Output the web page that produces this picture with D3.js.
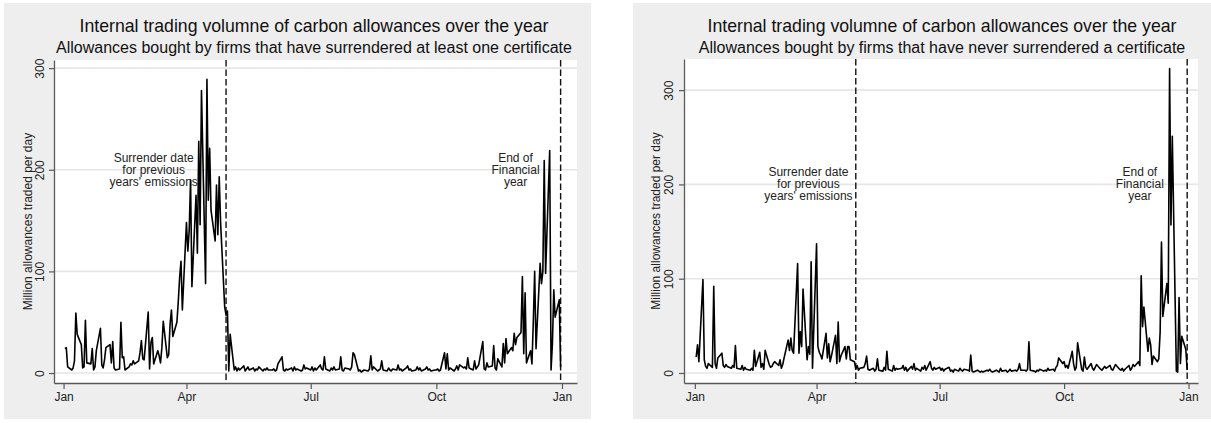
<!DOCTYPE html>
<html><head><meta charset="utf-8">
<script src="https://cdn.jsdelivr.net/npm/d3@7"></script>
<style>
body{margin:0;background:#fff}
svg{display:block}
text{font-family:"Liberation Sans", Arial, Helvetica, sans-serif}
</style>
</head><body>
<svg id="chart" width="1211" height="423"></svg>
<script>
// ---------- data ----------
const chartTitle = "Internal trading volumne of carbon allowances over the year";
const subtitles = [
  "Allowances bought by firms that have surrendered at least one certificate",
  "Allowances bought by firms that have never surrendered a certificate"
];
const yAxisTitle = "Million allowances traded per day";
const xTickDates = ["2019-01-01", "2019-04-01", "2019-07-01", "2019-10-01", "2020-01-01"];
const xTickLabels = ["Jan", "Apr", "Jul", "Oct", "Jan"];
const yTicks = [0, 100, 200, 300];
const eventDates = ["2019-04-30", "2019-12-31"];
const eventNotes = [["Surrender date", "for previous", "years' emissions"], ["End of", "Financial", "year"]];
const firstDay = "2019-01-02";
const lastDay = "2019-12-31";

// daily (business-day) volumes, million allowances
const surrenderedValues = [
  24, 25, 6, 3, 5, 12, 59, 38, 28, 5, 6, 52, 10, 9, 24, 3, 6, 22, 44, 8, 5, 13,            // Jan
  25, 28, 10, 31, 5, 3, 4, 50, 15, 16, 3, 6, 9, 8, 12, 9, 12, 20, 32, 14,                  // Feb
  13, 60, 4, 30, 35, 9, 22, 17, 10, 25, 51, 15, 18, 48, 62, 36, 50, 70, 94, 110, 62,       // Mar
  148, 120, 140, 190, 85, 175, 118, 228, 146, 278, 88, 289, 170, 221, 160, 130, 185, 136, 193, 148, 65, 57, // Apr
  61, 2, 38, 3, 6, 2, 5, 3, 7, 2, 4, 6, 3, 5, 2, 4, 3, 6, 2, 4, 3, 5, 3,                   // May
  3, 4, 2, 3, 9, 16, 3, 2, 4, 3, 5, 2, 6, 3, 4, 2, 3, 8, 4, 5,                             // Jun
  3, 6, 2, 5, 3, 8, 4, 3, 16, 4, 2, 5, 3, 6, 3, 4, 16, 3, 2, 5, 4, 3, 6,                   // Jul
  20, 18, 2, 3, 1, 2, 3, 2, 4, 17, 3, 6, 2, 3, 4, 12, 3, 2, 5, 3, 2, 4,                    // Aug
  3, 8, 3, 4, 2, 5, 7, 3, 4, 2, 3, 6, 3, 5, 2, 4, 6, 3, 4, 2, 3,                           // Sep
  3, 4, 2, 3, 20, 4, 19, 3, 5, 2, 4, 7, 3, 8, 5, 6, 4, 15, 5, 3, 12, 4, 6,                 // Oct
  8, 31, 4, 3, 10, 6, 7, 27, 5, 3, 14, 6, 29, 10, 34, 19, 25, 22, 39, 28, 35,              // Nov
  40, 95, 19, 79, 10, 22, 9, 50, 100, 24, 108, 88, 100, 209, 98, 219, 3, 29, 82, 55, 72, 6 // Dec
];
const neverSurrenderedValues = [
  17, 30, 12, 99, 14, 7, 5, 10, 6, 92, 10, 5, 16, 21, 8, 6, 9, 7, 5, 8, 6, 29,             // Jan
  5, 4, 8, 3, 6, 4, 3, 5, 3, 24, 7, 22, 6, 10, 4, 24, 9, 6, 7, 10,                         // Feb
  12, 8, 14, 5, 9, 16, 35, 24, 37, 24, 21, 116, 21, 44, 28, 89, 14, 28, 20, 118, 5,        // Mar
  137, 28, 22, 19, 15, 42, 16, 31, 12, 18, 40, 10, 54, 12, 18, 28, 15, 28, 28, 14, 12, 4,  // Apr
  8, 3, 5, 6, 10, 18, 4, 3, 5, 2, 4, 15, 3, 2, 6, 3, 23, 4, 2, 8, 3, 5, 4,                 // May
  5, 8, 3, 6, 2, 7, 4, 10, 3, 5, 2, 6, 4, 8, 3, 12, 5, 3, 6, 4,                            // Jun
  6, 3, 5, 2, 4, 6, 2, 3, 1, 4, 2, 5, 3, 2, 4, 3, 2, 19, 2, 1, 3, 2, 1,                    // Jul
  2, 1, 3, 2, 4, 2, 1, 3, 2, 1, 5, 2, 3, 1, 2, 4, 2, 3, 2, 4, 10, 3,                       // Aug
  3, 2, 4, 33, 3, 2, 1, 3, 2, 4, 2, 3, 2, 5, 3, 4, 2, 6, 8, 16, 10,                        // Sep
  12, 6, 8, 5, 23, 10, 3, 6, 32, 4, 2, 17, 6, 4, 10, 5, 3, 6, 9, 4, 3, 5, 7,               // Oct
  5, 8, 4, 3, 6, 9, 4, 3, 5, 2, 4, 8, 3, 5, 9, 7, 12, 8, 103, 49, 70,                      // Nov
  23, 37, 30, 9, 18, 12, 15, 43, 139, 60, 95, 74, 323, 157, 251, 2, 1, 80, 10, 39, 25, 3   // Dec
];

// ---------- layout ----------
const parse = d3.timeParse("%Y-%m-%d");
const tradingDays = d3.timeDay.range(parse(firstDay), d3.timeDay.offset(parse(lastDay), 1))
  .filter(d => d.getDay() !== 0 && d.getDay() !== 6);

const panels = [
  { values: surrenderedValues, subtitle: subtitles[0],
    bg: [4, 3, 587, 416], plot: [54, 577, 60, 383],
    xDom: ["2018-12-25", "2020-01-12"], yDom: [-9.8, 308],
    titleX: 314, labelOff: 10, titleOff: 22, noteDates: ["2019-03-08", "2019-11-28"] },
  { values: neverSurrenderedValues, subtitle: subtitles[1],
    bg: [633, 3, 578, 416], plot: [684, 1198, 59, 383],
    xDom: ["2018-12-24", "2020-01-08"], yDom: [-10.6, 333],
    titleX: 942, labelOff: 11, titleOff: 24, noteDates: ["2019-03-26", "2019-11-26"] }
];

const svg = d3.select("#chart");
const AXIS = "#5a5a5a";

panels.forEach(p => {
  const g = svg.append("g");
  const [x0, x1, y0, y1] = p.plot;
  const x = d3.scaleTime().domain(p.xDom.map(parse)).range([x0, x1]);
  const y = d3.scaleLinear().domain(p.yDom).range([y1, y0]);

  g.append("rect").attr("x", p.bg[0]).attr("y", p.bg[1]).attr("width", p.bg[2]).attr("height", p.bg[3])
    .attr("fill", "#eeeeee");
  g.append("rect").attr("x", x0).attr("y", y0).attr("width", x1 - x0).attr("height", y1 - y0)
    .attr("fill", "#ffffff");

  // titles
  g.append("text").attr("x", p.titleX).attr("y", 32).attr("text-anchor", "middle")
    .attr("font-size", 17.7).attr("fill", "#111").text(chartTitle);
  g.append("text").attr("x", p.titleX).attr("y", 53).attr("text-anchor", "middle")
    .attr("font-size", 16).attr("fill", "#111").text(p.subtitle);

  // gridlines
  g.selectAll("line.grid").data(yTicks).join("line").attr("class", "grid")
    .attr("x1", x0).attr("x2", x1).attr("y1", d => y(d)).attr("y2", d => y(d))
    .attr("stroke", "#e6e6e6").attr("stroke-width", 1.6);

  // event lines
  g.selectAll("line.evt").data(eventDates).join("line").attr("class", "evt")
    .attr("x1", d => x(parse(d))).attr("x2", d => x(parse(d)))
    .attr("y1", y0).attr("y2", y1)
    .attr("stroke", "#111").attr("stroke-width", 1.4).attr("stroke-dasharray", "6.5,3");

  // notes
  eventNotes.forEach((lines, i) => {
    const t = g.append("text").attr("text-anchor", "middle").attr("font-size", 12).attr("fill", "#222");
    lines.forEach((ln, j) => {
      t.append("tspan").attr("x", x(parse(p.noteDates[i])))
        .attr("y", y(200) + (j - 1) * 12 + 4).text(ln);
    });
  });

  // series line
  const n = Math.min(tradingDays.length, p.values.length);
  const pts = d3.range(n).map(i => [tradingDays[i], p.values[i]]);
  g.append("path").datum(pts)
    .attr("d", d3.line().x(d => x(d[0])).y(d => y(d[1])))
    .attr("fill", "none").attr("stroke", "#000").attr("stroke-width", 1.6)
    .attr("stroke-linejoin", "round");

  // axes
  const ya = g.append("g").attr("transform", `translate(${x0},0)`)
    .call(d3.axisLeft(y).tickValues(yTicks).tickSize(5).tickSizeOuter(0));
  ya.select(".domain").attr("stroke", AXIS).attr("stroke-width", 1.3);
  ya.selectAll(".tick line").attr("stroke", AXIS).attr("stroke-width", 1.2);
  ya.selectAll(".tick text").attr("x", null).attr("dy", null).attr("text-anchor", "middle")
    .attr("transform", `translate(${-p.labelOff},0) rotate(-90)`)
    .attr("font-size", 12).attr("fill", "#222").attr("font-family", null);

  const xa = g.append("g").attr("transform", `translate(0,${y1})`)
    .call(d3.axisBottom(x).tickValues(xTickDates.map(parse)).tickFormat((d, i) => xTickLabels[i])
      .tickSize(6).tickSizeOuter(0));
  xa.select(".domain").attr("stroke", AXIS).attr("stroke-width", 1.3);
  xa.selectAll(".tick line").attr("stroke", AXIS).attr("stroke-width", 1.2);
  xa.selectAll(".tick text").attr("font-size", 12).attr("fill", "#222").attr("font-family", null);

  // y title
  g.append("text").attr("transform", `translate(${x0 - p.titleOff},${(y0 + y1) / 2}) rotate(-90)`)
    .attr("text-anchor", "middle").attr("font-size", 12).attr("fill", "#222").text(yAxisTitle);
});
</script>
</body></html>
